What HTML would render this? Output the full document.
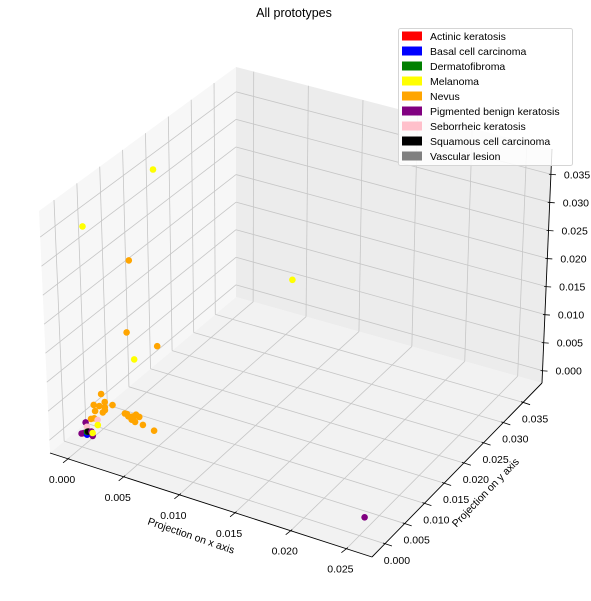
<!DOCTYPE html>
<html><head><meta charset="utf-8"><style>
body{margin:0;background:#fff}
svg{display:block;font-family:"Liberation Sans",sans-serif}
</style></head><body>
<svg id="chart" width="591" height="601" viewBox="0 0 591 601">
<text x="294" y="17" text-anchor="middle" font-size="12.5">All prototypes</text>
<g id="panes"></g><g id="grid"></g><g id="axes"></g><g id="pts"></g>
<text transform="translate(190,539) rotate(19)" text-anchor="middle" font-size="10.5">Projection on x axis</text>
<text transform="translate(488,495) rotate(-46)" text-anchor="middle" font-size="10.5">Projection on y axis</text>
<g id="legend"></g>
</svg>
<script>
const categories=["Actinic keratosis","Basal cell carcinoma","Dermatofibroma","Melanoma","Nevus","Pigmented benign keratosis","Seborrheic keratosis","Squamous cell carcinoma","Vascular lesion"];
const catColors=["#ff0000","#0000ff","#008000","#ffff00","#ffa500","#800080","#ffc0cb","#000000","#808080"];
const xTicks=[0,0.005,0.010,0.015,0.020,0.025];
const yTicks=[0,0.005,0.010,0.015,0.020,0.025,0.030,0.035];
const zTicks=[0,0.005,0.010,0.015,0.020,0.025,0.030,0.035];
const pointCat=[3,3,4,4,4,3,3,
4,4,4,4,4,4,4,4,4,4,4,6,5,3,6,
5,5,7,5,1,5,3,2,
4,4,4,4,4,4,4,4,4,4,4,5];
const pointX=[0.0004,-0.0003,0.0044,0.0040,0.0067,0.0046,0.0042,
0.0015,0.0008,0.0013,0.0018,0.0018,0.0018,0.0009,0.0016,0.0025,0.0005,0.0008,0.0011,0.0000,0.0011,0.0001,
0.0000,0.0002,0.0006,0.0009,0.0005,0.0010,0.0010,0.0005,
0.0036,0.0038,0.0039,0.0043,0.0044,0.0046,0.0049,0.0042,0.0045,0.0052,0.0062,0.0250];
const pointY=[0.0010,0.0183,0.0010,0.0010,0.0010,0.0010,0.0385,
0.0010,0.0010,0.0010,0.0010,0.0010,0.0010,0.0010,0.0010,0.0010,0.0010,0.0010,0.0010,0.0010,0.0010,0.0010,
0.0000,0.0000,0.0000,0.0000,0.0000,0.0000,0.0000,0.0000,
0.0010,0.0010,0.0010,0.0010,0.0010,0.0010,0.0010,0.0010,0.0010,0.0010,0.0010,0.0013];
const pointZ=[0.0355,0.0348,0.0319,0.0193,0.0185,0.0150,0.0049,
0.0072,0.0049,0.0050,0.0060,0.0051,0.0046,0.0039,0.0041,0.0059,0.0023,0.0026,0.0025,0.0014,0.0016,0.0007,
0.0001,0.0003,0.0008,0.0010,0.0002,0.0003,0.0008,0.0007,
0.0051,0.0051,0.0048,0.0050,0.0050,0.0055,0.0053,0.0044,0.0042,0.0041,0.0037,0.0000];

const XR=[-0.00162,0.0273],YR=[-0.00328,0.0398],ZR=[-0.0022,0.0395];
const C={"000":[50,453],"100":[372,557],"010":[236,297],"110":[542,383],"001":[39,211],"101":[371,306],"011":[236,67],"111":[552,149]};
function lerp(p,q,t){return [p[0]+(q[0]-p[0])*t,p[1]+(q[1]-p[1])*t];}
function proj(x,y,z){
 const a=(x-XR[0])/(XR[1]-XR[0]),b=(y-YR[0])/(YR[1]-YR[0]),c=(z-ZR[0])/(ZR[1]-ZR[0]);
 const f0=lerp(lerp(C["000"],C["100"],a),lerp(C["010"],C["110"],a),b);
 const f1=lerp(lerp(C["001"],C["101"],a),lerp(C["011"],C["111"],a),b);
 return lerp(f0,f1,c);}
const NS="http://www.w3.org/2000/svg";
function mk(tag,attrs,parent){const e=document.createElementNS(NS,tag);for(const k in attrs)e.setAttribute(k,attrs[k]);parent.appendChild(e);return e;}
const panes=document.getElementById('panes'),grid=document.getElementById('grid'),axes=document.getElementById('axes'),pts=document.getElementById('pts'),leg=document.getElementById('legend');
function poly(list){return list.map(p=>p.join(',')).join(' ');}
let e;
e=mk('polygon',{points:poly([C["000"],C["100"],C["110"],C["010"]]),fill:"#f2f2f2"},panes);


e=mk('polygon',{points:poly([C["000"],C["010"],C["011"],C["001"]]),fill:"#f7f7f7"},panes);


e=mk('polygon',{points:poly([C["010"],C["110"],C["111"],C["011"]]),fill:"#ececec"},panes);


function line(p,q,parent,stroke,w){return mk('line',{x1:p[0],y1:p[1],x2:q[0],y2:q[1],stroke:stroke,'stroke-width':w},parent);}
const GC="#c6c6c6";
xTicks.forEach(t=>{
 e=line(proj(t,YR[0],ZR[0]),proj(t,YR[1],ZR[0]),grid,GC,0.8);
 
 
 e=line(proj(t,YR[1],ZR[0]),proj(t,YR[1],ZR[1]),grid,GC,0.8);
 
 
 const p=proj(t,YR[0],ZR[0]);
 e=line([p[0]-5,p[1]+4],[p[0]+1.5,p[1]-1.2],axes,"#000",0.8);
 
 
 e=mk('text',{x:p[0]-6,y:p[1]+24,'text-anchor':'middle','font-size':'10.5'},axes);e.textContent=t.toFixed(3);
 
 
});
yTicks.forEach(t=>{
 e=line(proj(XR[0],t,ZR[0]),proj(XR[1],t,ZR[0]),grid,GC,0.8);
 
 
 e=line(proj(XR[0],t,ZR[0]),proj(XR[0],t,ZR[1]),grid,GC,0.8);
 
 
 const p=proj(XR[1],t,ZR[0]);
 e=line([p[0]-2,p[1]-0.7],[p[0]+7,p[1]+2.3],axes,"#000",0.8);
 
 
 e=mk('text',{x:p[0]+12,y:p[1]+20,'text-anchor':'middle','font-size':'10.5'},axes);e.textContent=t.toFixed(3);
 
 
});
zTicks.forEach(t=>{
 e=line(proj(XR[0],YR[0],t),proj(XR[0],YR[1],t),grid,GC,0.8);
 
 
 e=line(proj(XR[0],YR[1],t),proj(XR[1],YR[1],t),grid,GC,0.8);
 
 
 const p=proj(XR[1],YR[1],t);
 e=line([p[0]-2,p[1]],[p[0]+5,p[1]+0.5],axes,"#000",0.8);
 
 
 e=mk('text',{x:p[0]+13,y:p[1]+4,'font-size':'10.5'},axes);e.textContent=t.toFixed(3);
 
 
});
e=line(C["000"],C["100"],axes,"#000",0.9);


e=line(C["100"],C["110"],axes,"#000",0.9);


e=line(C["110"],C["111"],axes,"#000",0.9);


const order=pointX.map((_,i)=>i).sort((i,j)=>(pointY[j]-pointY[i])||(pointX[i]-pointX[j]));
order.forEach(i=>{
 const p=proj(pointX[i],pointY[i],pointZ[i]);
 const c=mk('circle',{cx:p[0].toFixed(1),cy:p[1].toFixed(1),r:3.3,fill:catColors[pointCat[i]]},pts);
 
 
});
e=mk('rect',{x:398.5,y:28.5,width:174,height:137,rx:2,fill:"#fff",'fill-opacity':0.85,stroke:"#d5d5d5"},leg);


categories.forEach((n,i)=>{
 const y=36+i*15;
 const g=mk('g',{},leg);
 
 
 e=mk('rect',{x:402,y:y-4.5,width:20,height:9,fill:catColors[i]},g);
 
 
 e=mk('text',{x:430,y:y+4,'font-size':'10.5'},g);e.textContent=n;
 
 
});
</script>
</body></html>
